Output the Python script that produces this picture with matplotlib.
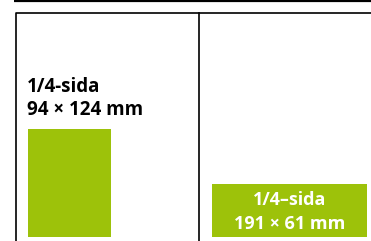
import matplotlib.pyplot as plt
from matplotlib.patches import Rectangle

# ad formats shown on the page
labels = ['1/4-sida', '1/4–sida']
sizes = ['94 × 124 mm', '191 × 61 mm']
green = '#9dc20a'

# page layout in pixels (x, y of top-left corner, width, height)
boxes = [(28, 129, 83, 108), (212, 184, 155, 53)]

plt.rcParams['font.family'] = ['Open Sans', 'DejaVu Sans']

fig = plt.figure(figsize=(3.71, 2.41), dpi=100)
ax = fig.add_axes([0, 0, 1, 1])
ax.set_xlim(0, 371)
ax.set_ylim(241, 0)
ax.axis('off')

# top rule and page frame
ax.plot([14, 371], [1, 1], color='black', lw=1.6, solid_capstyle='butt')
ax.plot([15.5, 15.5, 371], [241, 12.5, 12.5], color='black', lw=1.2)
ax.plot([199, 199], [12.5, 241], color='black', lw=1.2)

# left ad: label above the box
x, y, w, h = boxes[0]
ax.add_patch(Rectangle((x, y), w, h, color=green, lw=0))
ax.text(x - 1, 92, labels[0], fontsize=13.5, fontweight='bold', va='baseline', ha='left')
ax.text(x - 1, 115, sizes[0], fontsize=13.5, fontweight='bold', va='baseline', ha='left')

# right ad: label inside the box
x, y, w, h = boxes[1]
ax.add_patch(Rectangle((x, y), w, h, color=green, lw=0))
ax.text(x + w / 2, 205, labels[1], fontsize=13, fontweight='bold', color='white',
        va='baseline', ha='center')
ax.text(x + w / 2, 229, sizes[1], fontsize=13, fontweight='bold', color='white',
        va='baseline', ha='center')

fig.savefig('out.png', dpi=100)
